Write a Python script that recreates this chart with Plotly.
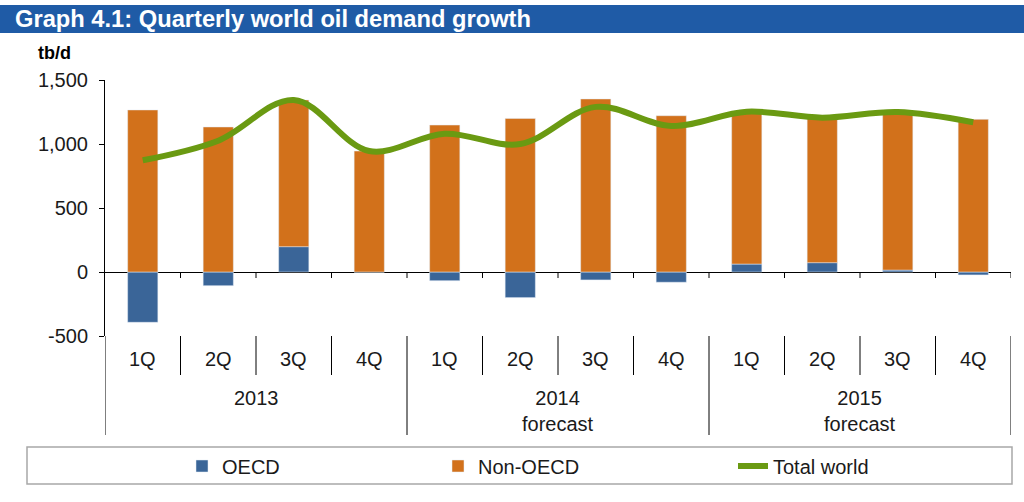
import plotly.graph_objects as go

# ---- data ----
quarters = ["1Q", "2Q", "3Q", "4Q"] * 3
years = ["2013", "2014<br>forecast", "2015<br>forecast"]
categories = [f"{q} {y.split('<br>')[0]}" for y in years for q in ["1Q", "2Q", "3Q", "4Q"]]
oecd = [-393, -107, 198, 0, -68, -200, -62, -80, 62, 73, 15, -23]
non_oecd = [1266, 1133, 1146, 945, 1148, 1200, 1352, 1221, 1190, 1133, 1235, 1193]
total_world = [873, 1026, 1344, 945, 1080, 1000, 1290, 1141, 1252, 1206, 1250, 1170]
y_ticks = [-500, 0, 500, 1000, 1500]
y_tick_labels = ["-500", "0", "500", "1,000", "1,500"]

# ---- style ----
C_OECD = "#3A6598"
C_NON = "#D2711B"
C_TOT = "#6A9A12"
C_TITLE = "#1F5BA6"
FONT = "Liberation Sans, Arial, sans-serif"
NARROW = "Liberation Sans Narrow, Arial Narrow, Liberation Sans, sans-serif"
TXT = "#1a1a1a"

W, H = 1024, 502
ML, MR, MT, MB = 105, 13, 80, 166
PW, PH = W - ML - MR, H - MT - MB


def px_x(px):
    return (px - ML) / PW


def px_y(py):
    return (H - MB - py) / PH


fig = go.Figure()
fig.add_trace(go.Bar(x=categories, y=oecd, name="OECD", marker_color=C_OECD,
                     width=0.4, legend="legend", showlegend=True))
fig.add_trace(go.Bar(x=categories, y=non_oecd, name="Non-OECD", marker_color=C_NON,
                     width=0.4, legend="legend2", showlegend=True))
fig.add_trace(go.Scatter(x=categories, y=total_world, name="Total world", mode="lines",
                         line=dict(color=C_TOT, width=6, shape="spline", smoothing=1.0),
                         legend="legend3", showlegend=True))

shapes = []
# title bar
shapes.append(dict(type="rect", xref="paper", yref="paper", x0=px_x(0), x1=px_x(W),
                   y0=px_y(33), y1=px_y(5), fillcolor=C_TITLE, line=dict(width=0), layer="below"))
# small ticks on zero line at category boundaries
for i in range(12):
    b = i + 0.5
    shapes.append(dict(type="line", xref="x", yref="y", x0=b, x1=b, y0=0, y1=-47,
                       line=dict(color="black", width=1)))
# quarter separators
for i in range(12):
    b = i - 0.5
    if i % 4 == 0:
        continue
    shapes.append(dict(type="line", xref="x", yref="paper", x0=b, x1=b,
                       y0=0, y1=px_y(375), line=dict(color="black", width=1)))
# year separators (incl. left and right edges)
for b in [-0.5, 3.5, 7.5, 11.5]:
    shapes.append(dict(type="line", xref="x", yref="paper", x0=b, x1=b,
                       y0=0, y1=px_y(435), line=dict(color="black", width=1)))
# legend box
shapes.append(dict(type="rect", xref="paper", yref="paper", x0=px_x(27), x1=px_x(1012),
                   y0=px_y(484), y1=px_y(447), line=dict(color="#a8a8a8", width=1.5),
                   fillcolor="rgba(0,0,0,0)"))

annotations = []
for i, q in enumerate(quarters):
    annotations.append(dict(x=categories[i], y=px_y(359), xref="x", yref="paper",
                            text=q, showarrow=False, yanchor="middle",
                            font=dict(family=FONT, size=20, color=TXT)))
for k, yl in enumerate(years):
    annotations.append(dict(x=4 * k + 1.5, y=px_y(385), xref="x", yref="paper",
                            text=yl, showarrow=False, yanchor="top",
                            font=dict(family=FONT, size=20, color=TXT)))
annotations.append(dict(x=px_x(36), y=px_y(53), xref="paper", yref="paper",
                        text="<b>tb/d</b>", showarrow=False, xanchor="left", yanchor="middle",
                        font=dict(family=FONT, size=18, color="black")))

leg_common = dict(orientation="h", bgcolor="rgba(0,0,0,0)", xanchor="left", yanchor="middle",
                  font=dict(family=NARROW, size=20, color=TXT))

fig.update_layout(
    width=W, height=H,
    margin=dict(l=ML, r=MR, t=MT, b=MB, pad=0),
    paper_bgcolor="white", plot_bgcolor="white",
    barmode="relative",
    showlegend=True,
    title=dict(text="<b>Graph 4.1: Quarterly world oil demand growth</b>",
               xref="container", yref="container", x=15 / W, y=1 - 19 / H,
               xanchor="left", yanchor="middle",
               font=dict(family=FONT, size=23.7, color="white")),
    xaxis=dict(type="category", range=[-0.5, 11.5], showticklabels=False, showline=False,
               showgrid=False, ticks="", zeroline=False, fixedrange=True),
    yaxis=dict(range=[-500, 1500], tickvals=y_ticks, ticktext=y_tick_labels, ticks="outside",
               ticklen=5, tickcolor="black", showline=True, linecolor="black", linewidth=1,
               showgrid=False, zeroline=True, zerolinecolor="black", zerolinewidth=1,
               ticklabelstandoff=7,
               tickfont=dict(family=FONT, size=20, color=TXT)),
    shapes=shapes,
    annotations=annotations,
    legend=dict(x=px_x(182), y=px_y(466), **leg_common),
    legend2=dict(x=px_x(438), y=px_y(466), **leg_common),
    legend3=dict(x=px_x(733), y=px_y(466), **leg_common),
)

fig.write_html("out.html", config={"displayModeBar": False},
               post_script="document.body.style.margin='0';")
